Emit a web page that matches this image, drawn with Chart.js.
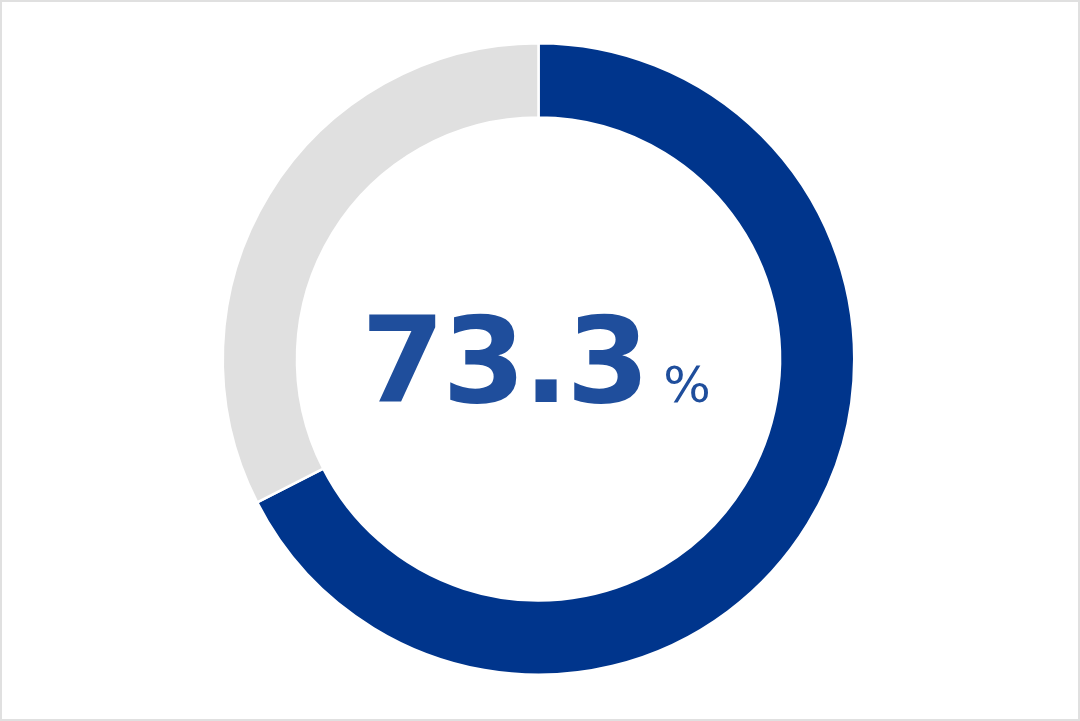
<!DOCTYPE html>
<html>
<head>
<meta charset="utf-8">
<script src="https://cdn.jsdelivr.net/npm/chart.js@4.4.1/dist/chart.umd.min.js"></script>
<style>
  html, body { margin: 0; padding: 0; background: #fff; }
  .frame {
    position: relative;
    width: 1076px;
    height: 717px;
    border: 2px solid #e0e0e0;
  }
  #rateChart { display: block; }
  .center-label {
    position: absolute;
    left: 0;
    right: 8px;
    top: 299px;
    text-align: center;
    font-family: "DejaVu Sans", sans-serif;
    color: #1f4e9c;
    line-height: 120px;
    white-space: nowrap;
  }
  .center-label .num { font-size: 120px; font-weight: bold; letter-spacing: -2.5px; }
  .center-label .unit { font-size: 50px; margin-left: 16px; }
</style>
</head>
<body>
<div class="frame">
  <canvas id="rateChart" width="1076" height="717"></canvas>
  <div class="center-label"><span class="num">73.3</span><span class="unit">%</span></div>
</div>
<script>
const labels = ["Rate", "Rest"];
const values = [67.5, 32.5];
const colors = ["#00358c", "#e0e0e0"];

window.addEventListener("DOMContentLoaded", () => {
  const canvas = document.getElementById("rateChart");

  new Chart(canvas, {
    type: "doughnut",
    data: {
      labels: labels,
      datasets: [
        {
          data: values,
          backgroundColor: colors,
          borderColor: "#ffffff",
          borderWidth: 2.5,
          hoverOffset: 0
        }
      ]
    },
    options: {
      responsive: false,
      animation: false,
      cutout: "76.5%",
      rotation: 0,
      layout: { padding: { top: 40, bottom: 43, left: 0, right: 3 } },
      plugins: { legend: { display: false }, tooltip: { enabled: false } }
    }
  });
});
</script>
</body>
</html>
